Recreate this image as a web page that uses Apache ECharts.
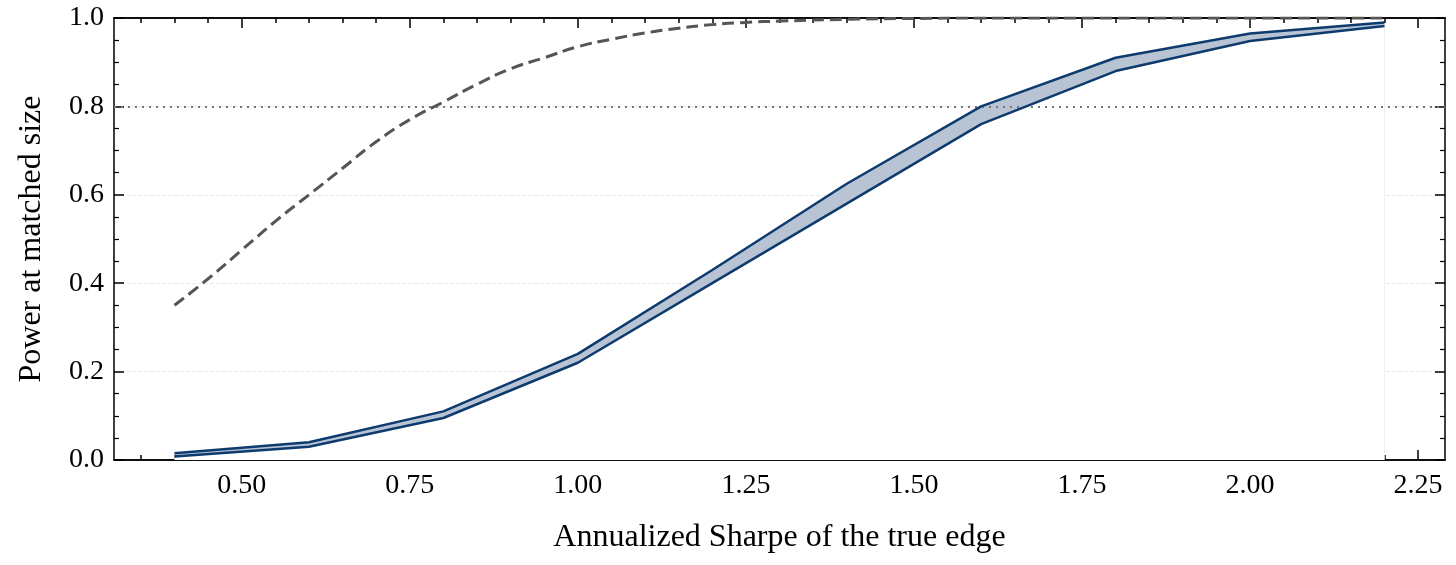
<!DOCTYPE html>
<html>
<head>
<meta charset="utf-8">
<script src="https://cdn.jsdelivr.net/npm/echarts@6/dist/echarts.min.js"></script>
<style>html,body{margin:0;padding:0;background:#fff}#chart{width:1456px;height:565px}</style>
</head>
<body>
<div id="chart"></div>
<script>
// Monte-Carlo grid
const sharpe = [0.4, 0.6, 0.8, 1.0, 1.2, 1.4, 1.6, 1.8, 2.0, 2.2];
const envLower = [0.008, 0.03, 0.095, 0.22, 0.40, 0.58, 0.76, 0.88, 0.948, 0.982];
const envUpper = [0.015, 0.04, 0.11, 0.24, 0.43, 0.625, 0.80, 0.91, 0.965, 0.99];

// analytic curve
const analyticX = [0.4, 0.45, 0.5, 0.55, 0.6, 0.65, 0.7, 0.75, 0.8, 0.85, 0.9, 0.95, 1.0, 1.05, 1.1, 1.15, 1.2, 1.25, 1.3, 1.4, 1.5, 1.6, 1.8, 2.0, 2.2];
const analyticY = [0.35, 0.41, 0.475, 0.54, 0.60, 0.66, 0.72, 0.77, 0.81, 0.85, 0.885, 0.91, 0.935, 0.952, 0.966, 0.977, 0.985, 0.99, 0.993, 0.997, 0.999, 1.0, 1.0, 1.0, 1.0];

const majorX = [0.5, 0.75, 1.0, 1.25, 1.5, 1.75, 2.0, 2.25];
const minorX = [];
for (let v = 35; v <= 225; v += 5) minorX.push(v / 100);

const font = 'Liberation Serif';
const navy = '#0d3b6e';
const bandColor = '#b8c4d4';

function xAx(pos, ticks, len, labels) {
    return {
        type: 'value', position: pos, min: 0.31, max: 2.29,
        axisLine: {show: true, onZero: false, lineStyle: {color: '#000', width: 1.5}},
        axisTick: {show: true, inside: true, length: len, customValues: ticks, lineStyle: {color: '#000', width: 1.5}},
        axisLabel: labels ? {show: true, customValues: majorX, formatter: v => v.toFixed(2), fontFamily: font, fontSize: 28, color: '#000', margin: 12} : {show: false},
        splitLine: {show: false},
        name: labels ? 'Annualized Sharpe of the true edge' : '',
        nameLocation: 'middle', nameGap: 62,
        nameTextStyle: {fontFamily: font, fontSize: 32, color: '#000'}
    };
}

function yAx(pos, labels) {
    return {
        type: 'value', position: pos, min: 0, max: 1, interval: 0.2,
        axisLine: {show: true, onZero: false, lineStyle: {color: '#000', width: 1.5}},
        axisTick: {show: true, inside: true, length: 10, lineStyle: {color: '#000', width: 1.5}},
        minorTick: {show: true, splitNumber: 4, length: 5, lineStyle: {color: '#000', width: 1.2}},
        axisLabel: labels ? {show: true, formatter: v => v.toFixed(1), fontFamily: font, fontSize: 28, color: '#000', margin: 10} : {show: false},
        splitLine: labels ? {show: true, lineStyle: {color: '#e8e8e8', type: 'dashed', width: 1}} : {show: false},
        name: labels ? 'Power at matched size' : '',
        nameLocation: 'middle', nameGap: 66,
        nameTextStyle: {fontFamily: font, fontSize: 32, color: '#000'}
    };
}

const chart = echarts.init(document.getElementById('chart'));
chart.setOption({
    animation: false,
    grid: {left: 114, right: 11, top: 18, bottom: 105},
    xAxis: [xAx('bottom', majorX, 10, true), xAx('bottom', minorX, 5, false), xAx('top', majorX, 10, false), xAx('top', minorX, 5, false)],
    yAxis: [yAx('left', true), yAx('right', false)],
    graphic: [
        {type: 'line', shape: {x1: 793, y1: 357, x2: 861, y2: 357}, style: {stroke: '#555', lineWidth: 3, lineDash: [12, 6]}},
        {type: 'text', x: 889, y: 357, style: {text: 'single honest test (analytic)', font: '28px "Liberation Serif"', fill: '#000', verticalAlign: 'middle'}},
        {type: 'rect', shape: {x: 793, y: 397, width: 68, height: 24}, style: {fill: bandColor}},
        {type: 'text', x: 889, y: 410, style: {text: 'surviving conjunctions (envelope of 7)', font: '28px "Liberation Serif"', fill: '#000', verticalAlign: 'middle'}}
    ],
    series: [
        {
            name: 'band', type: 'line', symbol: 'none', z: 1,
            data: sharpe.map((x, i) => [x, envUpper[i]]),
            lineStyle: {width: 0}, areaStyle: {color: bandColor, opacity: 1}
        },
        {
            name: 'bandMask', type: 'line', symbol: 'none', z: 1,
            data: sharpe.map((x, i) => [x, envLower[i]]),
            lineStyle: {width: 0}, areaStyle: {color: '#fff', opacity: 1}
        },
        {
            name: 'lower', type: 'line', symbol: 'none', z: 3, data: sharpe.map((x, i) => [x, envLower[i]]),
            lineStyle: {color: navy, width: 2.5}
        },
        {
            name: 'upper', type: 'line', symbol: 'none', z: 3, data: sharpe.map((x, i) => [x, envUpper[i]]),
            lineStyle: {color: navy, width: 2.5}
        },
        {
            name: 'single honest test (analytic)', type: 'line', symbol: 'none', smooth: true, z: 4,
            data: analyticX.map((x, i) => [x, analyticY[i]]),
            lineStyle: {color: '#555', width: 3, type: [12, 6]},
            markLine: {
                silent: true, symbol: 'none', label: {show: false}, z: 2,
                lineStyle: {color: '#777', type: [2, 5], width: 2},
                data: [{yAxis: 0.8}]
            }
        }
    ]
});
</script>
</body>
</html>
